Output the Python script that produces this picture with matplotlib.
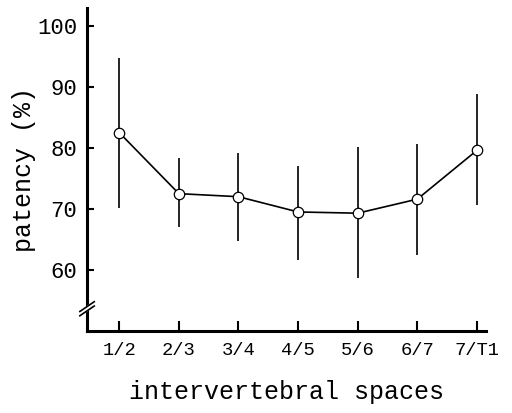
import matplotlib.pyplot as plt
import matplotlib.transforms as mtransforms

spaces = ['1/2', '2/3', '3/4', '4/5', '5/6', '6/7', '7/T1']
patency = [82.5, 72.5, 72.0, 69.5, 69.3, 71.6, 79.6]
err_hi = [94.7, 78.4, 79.2, 77.1, 80.2, 80.7, 88.8]
err_lo = [70.2, 67.1, 64.7, 61.6, 58.7, 62.5, 70.6]

plt.rcParams['font.family'] = ['Liberation Mono', 'DejaVu Sans Mono']

fig = plt.figure(figsize=(5.12, 4.13), dpi=100)
ax = fig.add_axes([0.170, 0.1985, 0.779, 0.782])

x = list(range(len(spaces)))
lower = [p - lo for p, lo in zip(patency, err_lo)]
upper = [hi - p for p, hi in zip(patency, err_hi)]

ax.errorbar(x, patency, yerr=[lower, upper], fmt='none', ecolor='black',
            elinewidth=1.2, capsize=0)
ax.plot(x, patency, '-o', color='black', linewidth=1.2, markersize=7.5,
        markerfacecolor='white', markeredgecolor='black', markeredgewidth=0.9)

ax.set_xlim(-0.54, 6.15)
ax.set_ylim(50, 102.9)
ax.set_xticks(x)
ax.set_xticklabels(spaces, fontsize=13.5)
ax.set_yticks([60, 70, 80, 90, 100])
ax.set_yticklabels(['60', '70', '80', '90', '100'], fontsize=16)
ax.tick_params(axis='y', direction='in', length=5, width=1.5, pad=7)
ax.tick_params(axis='x', direction='in', length=7, width=1.5, pad=8)

for s in ['top', 'right']:
    ax.spines[s].set_visible(False)
for s in ['left', 'bottom']:
    ax.spines[s].set_linewidth(2.2)

ax.set_xlabel('intervertebral spaces', fontsize=18, labelpad=15)
ax.set_ylabel('patency (%)', fontsize=18, labelpad=1)

# axis break marks
trans = mtransforms.blended_transform_factory(ax.transAxes, ax.transData)
bx = 0.0
yb = 53.6
dx = 0.018
dy = 0.8
ax.fill([bx - dx, bx + dx, bx + dx, bx - dx],
        [yb - dy - 0.3, yb + dy - 0.3, yb + dy + 0.4, yb - dy + 0.4],
        color='white', transform=trans, clip_on=False, zorder=5)
for off in (-0.3, 0.4):
    ax.plot([bx - dx, bx + dx], [yb - dy + off, yb + dy + off], color='black',
            linewidth=1.2, transform=trans, clip_on=False, zorder=6)

fig.savefig('out.png', dpi=100)
